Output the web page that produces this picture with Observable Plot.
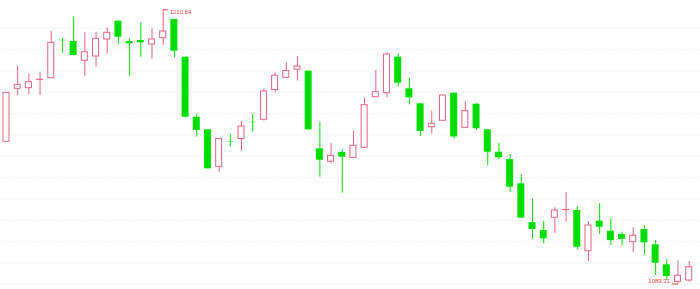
<!DOCTYPE html>
<html>
<head>
<meta charset="utf-8">
<script src="https://cdn.jsdelivr.net/npm/d3@7"></script>
<script src="https://cdn.jsdelivr.net/npm/@observablehq/plot@0.6"></script>
<style>
  html, body { margin: 0; padding: 0; background: #fff; }
  #chart svg { display: block; }
</style>
</head>
<body>
<div id="chart"></div>
<script>
// OHLC values (one entry per trading session)
const openValues = [
  1152.22, 1175.68, 1175.94, 1179.62, 1180.37, 1197.14, 1196.61, 1188.07, 1189.97, 1197.49,
  1205.59, 1196.61, 1197.05, 1195.28, 1198.07, 1206.34, 1189.66, 1163.11, 1157.53, 1141.16,
  1152.22, 1153.46, 1160.85, 1162.00, 1175.10, 1180.54, 1184.13, 1183.47, 1149.13, 1143.42,
  1147.49, 1145.14, 1149.57, 1171.96, 1173.73, 1189.66, 1175.68, 1169.04, 1158.69, 1161.52,
  1173.73, 1158.42, 1168.86, 1157.53, 1147.62, 1144.39, 1133.64, 1116.51, 1112.97, 1118.59,
  1122.00, 1121.82, 1103.81, 1117.09, 1112.67, 1111.20, 1107.80, 1113.42, 1106.65, 1097.80,
  1090.27, 1090.85
];
const closeValues = [
  1173.91, 1177.45, 1178.60, 1179.70, 1196.03, 1196.96, 1190.41, 1191.87, 1197.80, 1200.46,
  1198.51, 1195.59, 1196.03, 1197.49, 1201.03, 1192.32, 1163.11, 1157.22, 1140.28, 1153.55,
  1152.05, 1158.99, 1160.68, 1174.48, 1181.47, 1183.55, 1185.54, 1157.53, 1144.08, 1146.03,
  1145.41, 1150.45, 1168.42, 1174.17, 1190.85, 1178.15, 1171.69, 1156.78, 1160.19, 1172.71,
  1154.35, 1165.77, 1158.02, 1147.62, 1145.14, 1132.14, 1118.42, 1113.42, 1109.30, 1121.82,
  1122.09, 1105.59, 1115.19, 1114.44, 1108.55, 1109.08, 1110.67, 1107.53, 1098.51, 1092.62,
  1092.93, 1096.74
];
const highValues = [
  1174.04, 1185.68, 1182.31, 1183.02, 1201.03, 1198.24, 1207.36, 1200.46, 1200.72, 1202.67,
  1205.68, 1197.80, 1204.88, 1202.23, 1210.64, 1206.43, 1189.75, 1164.30, 1157.67, 1153.68,
  1155.76, 1161.21, 1164.30, 1175.68, 1182.76, 1187.31, 1189.97, 1183.55, 1160.90, 1151.47,
  1148.73, 1156.92, 1171.69, 1183.77, 1191.61, 1191.16, 1180.37, 1169.17, 1165.85, 1172.80,
  1173.82, 1170.06, 1169.17, 1157.67, 1151.47, 1146.52, 1137.75, 1126.83, 1116.96, 1123.06,
  1129.79, 1123.59, 1116.96, 1124.92, 1118.15, 1112.31, 1114.21, 1115.05, 1108.55, 1100.14,
  1099.61, 1099.26
];
const lowValues = [
  1152.14, 1172.71, 1173.02, 1172.71, 1180.37, 1191.43, 1190.28, 1181.12, 1185.24, 1191.16,
  1195.28, 1181.12, 1189.66, 1188.64, 1194.84, 1189.39, 1162.84, 1154.26, 1140.19, 1138.51,
  1149.84, 1148.15, 1156.65, 1161.43, 1174.04, 1180.46, 1179.04, 1157.45, 1136.56, 1142.49,
  1129.48, 1145.06, 1149.48, 1171.83, 1171.69, 1176.39, 1168.60, 1154.57, 1155.76, 1161.43,
  1153.46, 1158.33, 1157.31, 1141.60, 1144.26, 1129.92, 1118.28, 1109.21, 1107.09, 1111.65,
  1116.65, 1104.44, 1099.26, 1111.20, 1106.34, 1106.12, 1103.24, 1102.22, 1093.06, 1090.85,
  1089.31, 1090.05
];
// horizontal dotted grid levels
const gridLevels = [1089.2, 1098.7, 1108.1, 1117.5, 1127.0, 1136.4, 1145.9, 1155.3, 1164.8, 1174.2, 1183.6, 1193.1, 1202.5];
// extreme annotations
const maxLabel = "1210.64";
const minLabel = "1089.31";

const upColor = "#e2637f";
const downColor = "#00dd00";
const labelColor = "#e2463c";

const candles = openValues.map((o, i) => ({
  i, open: o, close: closeValues[i], high: highValues[i], low: lowValues[i],
  up: closeValues[i] >= o
}));
const ups = candles.filter(d => d.up);
const downs = candles.filter(d => !d.up);
const hiIdx = d3.maxIndex(highValues);
const loIdx = d3.minIndex(lowValues);
const hiPt = [{i: hiIdx, v: highValues[hiIdx], t: maxLabel}];
const loPt = [{i: loIdx, v: lowValues[loIdx], t: minLabel}];

const chart = Plot.plot({
  width: 700,
  height: 289,
  marginLeft: 0.4,
  marginRight: 5.7,
  marginTop: 9.3,
  marginBottom: 5.5,
  style: {background: "#fff"},
  x: {type: "linear", domain: [-0.5, openValues.length - 0.5], axis: null},
  y: {domain: [1089.31, 1210.64], axis: null},
  marks: [
    Plot.ruleY(gridLevels, {stroke: "#e2e2e2", strokeDasharray: "1,2", insetLeft: -1, insetRight: -6}),
    Plot.ruleX(ups, {x: "i", y1: "low", y2: "high", stroke: upColor, strokeWidth: 1}),
    Plot.ruleX(downs, {x: "i", y1: "low", y2: "high", stroke: downColor, strokeWidth: 1}),
    Plot.rect(ups, {x1: d => d.i - 0.5, x2: d => d.i + 0.5, y1: "open", y2: "close",
      insetLeft: 2.6, insetRight: 2.6, fill: "#fff", stroke: upColor, strokeWidth: 1}),
    Plot.rect(downs, {x1: d => d.i - 0.5, x2: d => d.i + 0.5, y1: "open", y2: "close",
      insetLeft: 2.1, insetRight: 2.1, fill: downColor}),
    // max annotation
    Plot.link(hiPt, {x1: "i", x2: d => d.i + 0.42, y1: "v", y2: "v", stroke: labelColor, strokeWidth: 1}),
    Plot.text(hiPt, {x: "i", y: "v", text: "t", dx: 6.5, dy: 2.5, textAnchor: "start",
      fill: labelColor, fontSize: 6, fontFamily: "Liberation Sans, Arial, sans-serif"}),
    // min annotation
    Plot.link(loPt, {x1: d => d.i - 0.55, x2: "i", y1: "v", y2: "v", stroke: labelColor, strokeWidth: 1}),
    Plot.text(loPt, {x: "i", y: "v", text: "t", dx: -8, dy: -3, textAnchor: "end",
      fill: labelColor, fontSize: 6, fontFamily: "Liberation Sans, Arial, sans-serif"})
  ]
});
document.getElementById("chart").appendChild(chart);
</script>
</body>
</html>
